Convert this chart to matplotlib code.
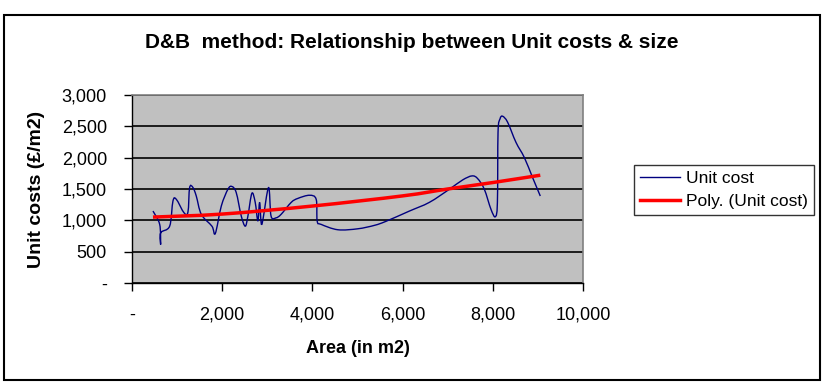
import matplotlib
matplotlib.use("Agg")
import matplotlib.pyplot as plt
from matplotlib.patches import Rectangle, PathPatch
from matplotlib.path import Path
from matplotlib.lines import Line2D
from matplotlib.ticker import FuncFormatter, MultipleLocator

plt.rcParams['font.family'] = ['Liberation Sans', 'DejaVu Sans']

# Unit cost
area = [465, 614, 636, 636, 835, 908, 983, 1152, 1240, 1278, 1352, 1425, 1537,
        1772, 1847, 1980, 2127, 2215, 2311, 2423, 2511, 2570, 2658, 2732, 2791,
        2829, 2864, 2900, 3028, 3083, 3193, 3305, 3531, 3678, 3936, 4084, 4106,
        4195, 4563, 5006, 5376, 5634, 6151, 6594, 7037, 7332, 7540, 7665, 7812,
        7960, 8056, 8102, 8116, 8160, 8218, 8329, 8514, 8698, 8882, 9053]
unit_cost = [1148, 935, 614, 801, 907, 1308, 1335, 1122, 1130, 1523, 1523, 1388,
             1095, 907, 790, 1228, 1496, 1540, 1443, 1068, 907, 1068, 1431, 1287,
             988, 1287, 960, 1000, 1523, 1068, 1040, 1095, 1287, 1350, 1400, 1335,
             988, 935, 850, 865, 920, 985, 1148, 1287, 1496, 1645, 1709, 1665,
             1496, 1175, 1058, 1287, 2404, 2618, 2661, 2565, 2244, 2004, 1683, 1388]

# Poly. (Unit cost) trendline, read at a few positions
trend_x = [465, 2000, 4000, 6000, 7000, 8000, 9053]
trend_y = [1052, 1100, 1228, 1390, 1500, 1603, 1720]

title = "D&B  method: Relationship between Unit costs & size"
xlabel = "Area (in m2)"
ylabel = "Unit costs (£/m2)"
series_labels = ["Unit cost", "Poly. (Unit cost)"]


def smooth_path(xs, ys):
    """Excel-style smoothed line: cubic Bezier through the points."""
    pts = list(zip(xs, ys))
    n = len(pts)
    verts = [pts[0]]
    codes = [Path.MOVETO]
    for i in range(n - 1):
        p0 = pts[i - 1] if i > 0 else pts[i]
        p1 = pts[i]
        p2 = pts[i + 1]
        p3 = pts[i + 2] if i + 2 < n else pts[i + 1]
        c1 = (p1[0] + (p2[0] - p0[0]) / 6, p1[1] + (p2[1] - p0[1]) / 6)
        c2 = (p2[0] - (p3[0] - p1[0]) / 6, p2[1] - (p3[1] - p1[1]) / 6)
        verts += [c1, c2, p2]
        codes += [Path.CURVE4] * 3
    return Path(verts, codes)


fig = plt.figure(figsize=(8.24, 3.86), dpi=100)
W, H = 824, 386
ax = fig.add_axes([132 / W, 1 - 283 / H, (583 - 132) / W, (283 - 95) / H])
ax.set_facecolor('#C0C0C0')

ax.add_patch(PathPatch(smooth_path(area, unit_cost), facecolor='none',
                       edgecolor='#000080', lw=1.0, zorder=3))
ax.add_patch(PathPatch(smooth_path(trend_x, trend_y), facecolor='none',
                       edgecolor='#FF0000', lw=2.5, zorder=4))

ax.set_xlim(0, 10000)
ax.set_ylim(0, 3000)
ax.xaxis.set_major_locator(MultipleLocator(2000))
ax.yaxis.set_major_locator(MultipleLocator(500))
fmt = FuncFormatter(lambda v, p: '-' if v == 0 else f'{v:,.0f}')
ax.xaxis.set_major_formatter(fmt)
ax.yaxis.set_major_formatter(fmt)
ax.grid(axis='y', color='black', lw=1.2, zorder=1)
ax.set_axisbelow(True)
ax.tick_params(axis='both', direction='out', length=6, width=1, color='black',
               labelsize=13)
ax.tick_params(axis='x', pad=11)
ax.tick_params(axis='y', pad=12)
for s in ['top', 'right']:
    ax.spines[s].set_color('#808080')
    ax.spines[s].set_linewidth(1.2)
for s in ['left', 'bottom']:
    ax.spines[s].set_color('black')
    ax.spines[s].set_linewidth(1.0)

ax.set_xlabel(xlabel, fontsize=13, fontweight='bold', labelpad=12)
ax.set_ylabel(ylabel, fontsize=14, fontweight='bold', labelpad=12)

fig.text(412 / W, 1 - 43 / H, title, ha='center', va='center', fontsize=15,
         fontweight='bold')

handles = [Line2D([], [], color='#000080', lw=1.0),
           Line2D([], [], color='#FF0000', lw=2.5)]
leg = ax.legend(handles, series_labels, loc='center left',
                bbox_to_anchor=(634 / W, 1 - 190 / H),
                bbox_transform=fig.transFigure, frameon=True, fancybox=False,
                edgecolor='black', fontsize=12.5, handlelength=2.3,
                handletextpad=0.35, borderpad=0.35, labelspacing=0.45,
                borderaxespad=0)
leg.get_frame().set_linewidth(1.0)

fig.patches.append(Rectangle((3.5 / W, 1 - 379.5 / H), (819.5 - 3.5) / W,
                             (379.5 - 14.5) / H, transform=fig.transFigure,
                             fill=False, edgecolor='black', lw=1.5))

fig.savefig('out.png', dpi=100)
